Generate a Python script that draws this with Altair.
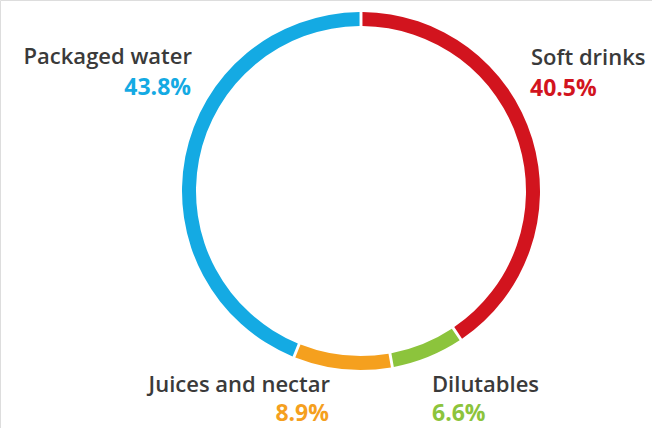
import altair as alt
import pandas as pd

categories = ["Soft drinks", "Dilutables", "Juices and nectar", "Packaged water"]
shares = [40.5, 6.6, 8.9, 43.8]
share_labels = ["40.5%", "6.6%", "8.9%", "43.8%"]
colors = ["#D2141E", "#8CC43C", "#F5A01E", "#14AAE3"]
order_idx = [0, 1, 2, 3]

df = pd.DataFrame({"cat": categories, "share": shares, "ord": order_idx})

CX, CY = 361, 191

ring = alt.Chart(df).mark_arc(outerRadius=179, innerRadius=165, padAngle=0.012).encode(
    theta=alt.Theta("share:Q", stack=True),
    order=alt.Order("ord:Q"),
    color=alt.Color("cat:N", scale=alt.Scale(domain=categories, range=colors), legend=None),
    x=alt.value(CX),
    y=alt.value(CY),
)

FONT = "Open Sans"

def label(name, x, y, align, color=None, bold=False):
    d = pd.DataFrame({"t": [name]})
    return alt.Chart(d).mark_text(
        align=align, baseline="alphabetic", font=FONT,
        fontSize=23 if bold else 22,
        fontWeight="bold" if bold else 600,
        color=color if color else "#3a3a3a",
    ).encode(text="t:N", x=alt.value(x), y=alt.value(y))

layers = [ring]
layers.append(label(categories[0], 531, 65, "left"))
layers.append(label(share_labels[0], 530, 96, "left", colors[0], True))
layers.append(label(categories[3], 192, 64, "right"))
layers.append(label(share_labels[3], 191, 95, "right", colors[3], True))
layers.append(label(categories[2], 330, 392, "right"))
layers.append(label(share_labels[2], 329, 421, "right", colors[2], True))
layers.append(label(categories[1], 432, 392, "left"))
layers.append(label(share_labels[1], 432, 421, "left", colors[1], True))

chart = alt.layer(*layers).properties(
    width=652, height=428, padding=0,
    autosize=alt.AutoSizeParams(type="none"),
).configure_view(stroke=None).configure(background="white")

chart.save("out.html", embed_options={"renderer": "svg", "actions": False})
